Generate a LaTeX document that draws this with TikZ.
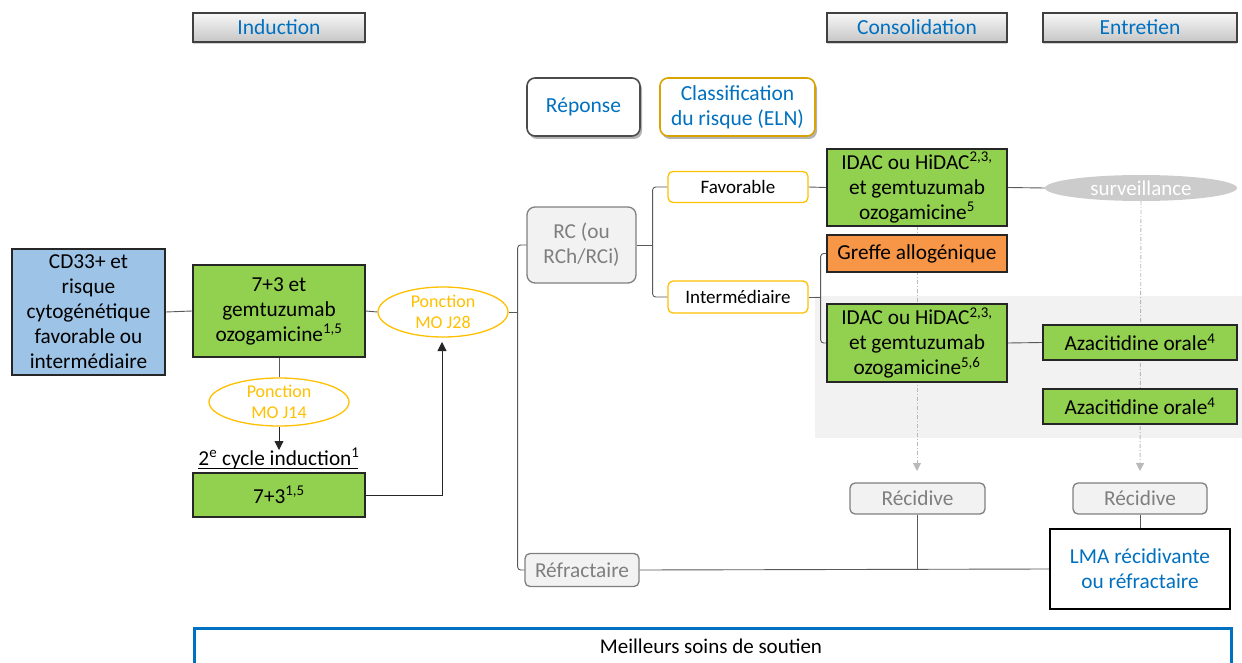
\documentclass[tikz,border=0pt]{standalone}
\usepackage{fontspec}
\setmainfont{Carlito}
\usetikzlibrary{shapes.geometric,shadows,arrows.meta,calc}
\definecolor{mygreen}{HTML}{92D050}
\definecolor{myblue}{HTML}{0070C0}
\definecolor{lightblue}{HTML}{9DC3E6}
\definecolor{myorange}{HTML}{FFC000}
\definecolor{orfill}{HTML}{F79646}
\definecolor{txtgray}{HTML}{7F7F7F}
\definecolor{boxgray}{HTML}{F2F2F2}
\definecolor{linegray}{HTML}{595959}
\tikzset{
  base/.style={align=center, inner sep=0pt, font=\fontsize{21.3}{25}\selectfont},
  hdr/.style={base, rectangle, draw=black!75, line width=1.4pt, top color=gray!6, bottom color=gray!45,
     text=myblue, font=\fontsize{21.5}{25}\selectfont, minimum height=29,
     drop shadow={shadow xshift=0pt, shadow yshift=-2.5pt, opacity=0.35}},
  greenbox/.style={base, rectangle, fill=mygreen, draw=black!85, line width=1.6pt},
  bluebox/.style={base, rectangle, fill=lightblue, draw=black!85, line width=1.8pt},
  orbox/.style={base, rectangle, fill=orfill, draw=black!85, line width=1.6pt},
  ponct/.style={base, ellipse, draw=myorange, line width=1.3pt, text=myorange, fill=white,
     font=\fontsize{18}{20.5}\selectfont},
  legbox/.style={base, rectangle, rounded corners=8pt, fill=white, line width=1.6pt, text=myblue,
     font=\fontsize{21.5}{25}\selectfont,
     drop shadow={shadow xshift=2pt, shadow yshift=-3pt, opacity=0.6}},
  riskbox/.style={base, rectangle, rounded corners=5pt, draw=myorange, line width=1.3pt, fill=white,
     font=\fontsize{19}{22}\selectfont},
  graybox/.style={base, rectangle, rounded corners=5pt, draw=txtgray, line width=1.3pt, fill=boxgray,
     text=txtgray},
  conn/.style={draw=linegray, line width=0.9pt},
  brack/.style={conn, rounded corners=3pt},
  blackarrow/.style={draw=black!85, line width=0.9pt, -{Triangle[width=9pt,length=9pt]}},
  dasharrow/.style={draw=gray!55, line width=0.9pt, dash pattern=on 4pt off 2pt on 1pt off 2pt,
     -{Triangle[width=8pt,length=8pt]}},
}
\begin{document}
\begin{tikzpicture}[x=1pt,y=-1pt]
\useasboundingbox (0,0) rectangle (1242,663);
\clip (0,0) rectangle (1242,663);
% shaded background region
\fill[boxgray] (815,296) rectangle (1242,438);

% headers
\node[hdr, minimum width=172] (hInd) at (279,27.5) {Induction};
\node[hdr, minimum width=180] (hCons) at (917,27.5) {Consolidation};
\node[hdr, minimum width=194] (hEnt) at (1140,27.5) {Entretien};

% legend
\node[legbox, draw=black!70, minimum width=113, minimum height=58] (rep) at (583.5,107) {Réponse};
\node[legbox, draw=myorange!85!black, minimum width=155, minimum height=58] (cls) at (737.5,107)
  {Classification\\du risque (ELN)};

% surveillance + dashed arrows (behind boxes)
\node[base, ellipse, fill=gray!40, text=white, minimum width=192, minimum height=26,
  font=\fontsize{21}{24}\selectfont] (surv) at (1141,188) {surveillance};
\coordinate (d1) at (917,471);
\coordinate (d2) at (1140,471);
\node[base, minimum width=180, minimum height=77] (idac1ph) at (917,187.5) {};
\draw[dasharrow] (idac1ph.south) -- (d1);
\draw[dasharrow] (surv.south) -- (d2);

% main flow
\node[bluebox, minimum width=153, minimum height=126] (cd33) at (88.5,312)
  {CD33+ et\\risque\\cytogénétique\\favorable ou\\intermédiaire};
\node[greenbox, minimum width=172, minimum height=92] (g1) at (279,311)
  {7+3 et\\gemtuzumab\\ozogamicine\textsuperscript{1,5}};
\node[ponct, minimum width=130, minimum height=50] (j28) at (443,312) {Ponction\\MO J28};
\node[ponct, minimum width=140, minimum height=48] (j14) at (279,402) {Ponction\\MO J14};
\node[base, anchor=base] (cyc) at (279,465) {2\textsuperscript{e} cycle induction\textsuperscript{1}};
\draw[black, line width=1pt] ($(cyc.base west)+(0,3.5)$) -- ($(cyc.base east)+(-2,3.5)$);
\node[greenbox, minimum width=172, minimum height=44] (g2) at (279,495) {7+3\textsuperscript{1,5}};
\coordinate (a14) at (279,450);
\coordinate (a28) at (442,342);

\draw[conn] (cd33.east) -- (g1.west);
\draw[conn] (g1.east) -- (j28.west);
\draw[conn] (g1.south) -- (j14.north);
\draw[blackarrow] (j14.south) -- (a14);
\draw[blackarrow] (g2.east) -| (a28);

% response
\node[graybox, rounded corners=8pt, minimum width=109, minimum height=76] (rc) at (581.5,245)
  {RC (ou\\RCh/RCi)};
\node[graybox, minimum width=114, minimum height=33] (refr) at (582,570) {Réfractaire};
\draw[brack] (rc.west) -| ($(j28.east)+(9,0)$) |- (refr.west);
\draw[conn] (j28.east) -- ++(9,0);

% risk
\node[riskbox, minimum width=140, minimum height=31] (fav) at (738,187) {Favorable};
\node[riskbox, minimum width=140, minimum height=32] (inter) at (738,297) {Intermédiaire};
\draw[brack] (fav.west) -| ($(rc.east)+(16,0)$) |- (inter.west);
\draw[conn] (rc.east) -- ++(16,0);

% consolidation
\node[greenbox, minimum width=180, minimum height=77] (idac1) at (917,187.5)
  {IDAC ou HiDAC\textsuperscript{2,3,}\\et gemtuzumab\\ozogamicine\textsuperscript{5}};
\node[orbox, minimum width=180, minimum height=37] (greffe) at (917,253.5) {Greffe allogénique};
\node[greenbox, minimum width=180, minimum height=78] (idac2) at (917,343)
  {IDAC ou HiDAC\textsuperscript{2,3,}\\et gemtuzumab\\ozogamicine\textsuperscript{5,6}};
\draw[conn] (fav.east) -- (idac1.west);
\draw[conn] (idac1.east) -- (surv.west);
\draw[brack] (greffe.west) -| ($(inter.east)+(12,0)$) |- (idac2.west);
\draw[conn] (inter.east) -- ++(12,0);

% maintenance
\node[greenbox, minimum width=194, minimum height=35] (aza1) at (1140,342.5) {Azacitidine orale\textsuperscript{4}};
\node[greenbox, minimum width=194, minimum height=35] (aza2) at (1140,406.5) {Azacitidine orale\textsuperscript{4}};
\draw[conn] (idac2.east) -- (aza1.west);

% relapse
\node[graybox, minimum width=135, minimum height=31] (rec1) at (917.5,498.5) {Récidive};
\node[graybox, minimum width=134, minimum height=31] (rec2) at (1140,498.5) {Récidive};
\node[base, rectangle, draw=black, line width=1.6pt, fill=white, text=myblue, minimum width=180, minimum height=80]
  (lma) at (1140,569) {LMA récidivante\\ou réfractaire};
\draw[conn] (refr.east) -- (lma.west);
\draw[conn] (rec1.south) -- (rec1.south |- lma.west);
\draw[conn] (rec2.south) -- (lma.north);

% bottom
\node[base, rectangle, draw=myblue, line width=2.6pt, minimum width=1037, minimum height=60, anchor=north west] (bsc) at (193,627) {};
\node[base, font=\fontsize{21}{24}\selectfont] (bsct) at (711,646) {Meilleurs soins de soutien};
\end{tikzpicture}
\end{document}
